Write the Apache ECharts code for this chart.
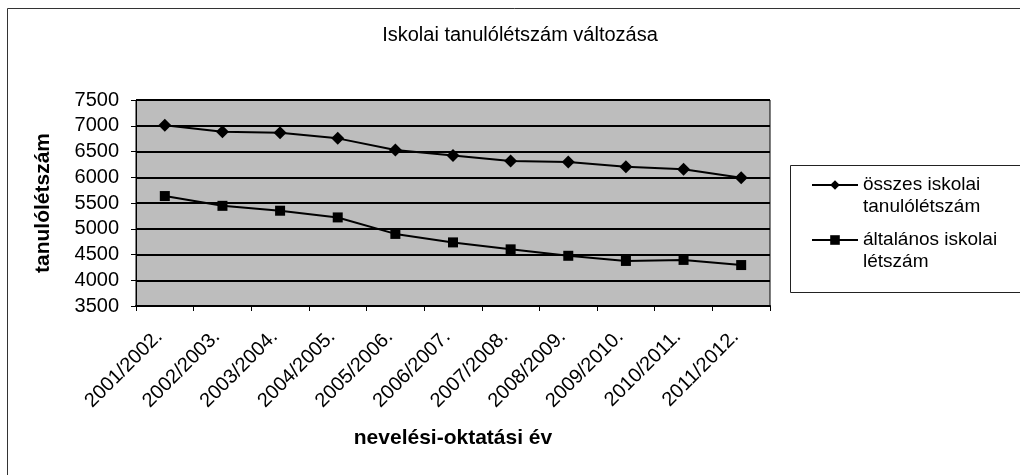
<!DOCTYPE html>
<html>
<head>
<meta charset="utf-8">
<script src="https://cdn.jsdelivr.net/npm/echarts@6/dist/echarts.min.js"></script>
<style>
  html, body { margin: 0; padding: 0; background: #fff; }
  #chart { width: 1020px; height: 475px; }
</style>
</head>
<body>
<div id="chart"></div>
<script>
const years = ['2001/2002.', '2002/2003.', '2003/2004.', '2004/2005.', '2005/2006.', '2006/2007.',
  '2007/2008.', '2008/2009.', '2009/2010.', '2010/2011.', '2011/2012.'];
const osszes = [7010, 6885, 6865, 6755, 6530, 6420, 6315, 6295, 6205, 6155, 5990];
const altalanos = [5635, 5445, 5350, 5220, 4900, 4735, 4600, 4475, 4375, 4395, 4295];
const yTicks = {min: 3500, max: 7500, step: 500};

const font = '"Liberation Sans", Arial, sans-serif';
const chart = echarts.init(document.getElementById('chart'), null, {renderer: 'canvas'});

chart.setOption({
  animation: false,
  backgroundColor: '#fff',
  textStyle: {fontFamily: font, color: '#000'},
  title: {
    text: 'Iskolai tanulólétszám változása',
    left: 515, top: 20, textAlign: 'center',
    textStyle: {fontFamily: font, fontSize: 20, fontWeight: 'normal', color: '#000'}
  },
  graphic: [
    {type: 'rect', shape: {x: 7.5, y: 8.5, width: 1020, height: 480},
      style: {fill: 'none', stroke: '#333', lineWidth: 1}, silent: true},
    {type: 'rect', shape: {x: 790.5, y: 165.5, width: 240, height: 127},
      style: {fill: '#fff', stroke: '#222', lineWidth: 1}, silent: true}
  ],
  legend: {
    orient: 'vertical',
    left: 806, top: 147,
    itemWidth: 46, itemHeight: 12, itemGap: -11,
    textStyle: {fontFamily: font, fontSize: 19, color: '#000', lineHeight: 22},
    // leading blank line keeps the marker level with the first text row
    formatter: (n) => '\n' + n.replace(' iskolai ', ' iskolai\n'),
    data: ['összes iskolai tanulólétszám', 'általános iskolai létszám']
  },
  grid: {left: 136, right: 250, top: 100, bottom: 169, show: true, backgroundColor: '#bdbdbd', borderColor: '#000', borderWidth: 1},
  xAxis: {
    type: 'category',
    data: years,
    boundaryGap: true,
    name: 'nevelési-oktatási év',
    nameLocation: 'middle',
    nameGap: 122,
    nameTextStyle: {fontFamily: font, fontSize: 21, fontWeight: 'bold', color: '#000'},
    axisLine: {lineStyle: {color: '#000', width: 2}},
    axisTick: {show: true, length: 5, lineStyle: {color: '#000'}},
    axisLabel: {rotate: 45, margin: 22, padding: [0, 8, 0, 0], fontFamily: font, fontSize: 20, color: '#000'},
    splitLine: {show: false}
  },
  yAxis: {
    type: 'value',
    min: yTicks.min, max: yTicks.max, interval: yTicks.step,
    name: 'tanulólétszám',
    nameLocation: 'middle',
    nameGap: 82,
    nameRotate: 90,
    nameTextStyle: {fontFamily: font, fontSize: 21, fontWeight: 'bold', color: '#000'},
    axisLine: {show: true, lineStyle: {color: '#000', width: 1}},
    axisTick: {show: true, length: 5, lineStyle: {color: '#000'}},
    axisLabel: {margin: 17, fontFamily: font, fontSize: 20, color: '#000', formatter: (v) => String(v)},
    splitLine: {show: true, lineStyle: {color: '#000', width: 2}}
  },
  series: [
    {
      name: 'összes iskolai tanulólétszám',
      type: 'line',
      data: osszes,
      symbol: 'diamond', symbolSize: 13,
      itemStyle: {color: '#000'},
      lineStyle: {color: '#000', width: 2}
    },
    {
      name: 'általános iskolai létszám',
      type: 'line',
      data: altalanos,
      symbol: 'rect', symbolSize: 10,
      itemStyle: {color: '#000'},
      lineStyle: {color: '#000', width: 2}
    }
  ]
});
</script>
</body>
</html>
